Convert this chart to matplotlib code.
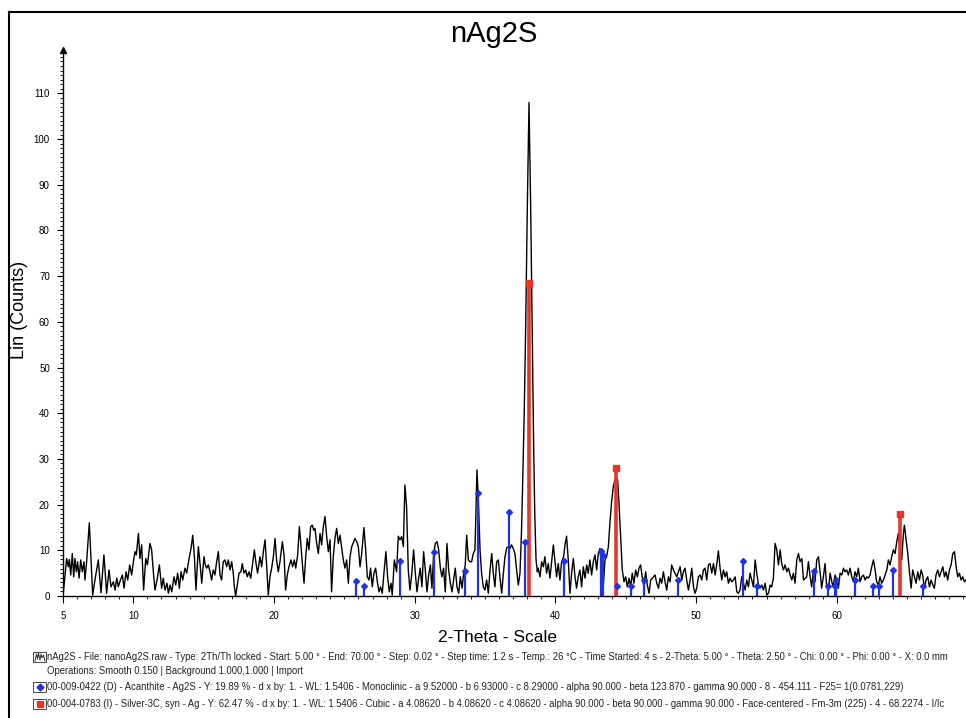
import matplotlib
matplotlib.use('Agg')
import matplotlib.pyplot as plt
import numpy as np
from matplotlib.lines import Line2D
from matplotlib.patches import Rectangle
from matplotlib.ticker import MultipleLocator, FixedLocator

plt.rcParams['font.family'] = ['Liberation Sans', 'DejaVu Sans']

tt_a = [5.00, 5.26, 5.38, 5.45, 5.55, 5.66, 5.76, 5.85, 5.95, 6.04,
        6.14, 6.26, 6.37, 6.49, 6.56, 6.68, 6.87, 7.11, 7.27, 7.51,
        7.70, 7.91, 8.10, 8.27, 8.41, 8.58, 8.70, 8.82, 8.93, 9.08,
        9.22, 9.34, 9.48, 9.60, 9.74, 9.88, 10.02, 10.12, 10.21, 10.36,
        10.47, 10.59, 10.73, 10.88, 11.00, 11.18, 11.30, 11.45, 11.54, 11.70,
        11.85, 12.01, 12.13, 12.25, 12.39, 12.49, 12.61, 12.73, 12.89, 13.01,
        13.15, 13.27, 13.39, 13.51, 13.67, 13.79, 13.96, 14.10, 14.22, 14.34,
        14.45, 14.62, 14.76, 14.86, 15.02]
ct_a = [0.0, 8.2, 6.4, 8.0, 4.6, 9.3, 4.2, 8.2, 5.3, 7.5,
        3.9, 7.9, 5.3, 7.5, 3.5, 7.5, 16.0, 0.2, 3.5, 7.9,
        0.7, 9.0, 0.6, 5.7, 2.0, 3.1, 1.3, 3.9, 2.0, 3.5,
        4.6, 1.7, 5.3, 3.5, 6.8, 4.6, 7.9, 9.7, 9.0, 13.7,
        8.2, 11.2, 1.3, 8.2, 6.8, 11.5, 10.1, 4.2, 1.3, 3.8,
        6.8, 1.7, 3.9, 1.3, 2.8, 0.6, 2.4, 0.9, 4.2, 2.4,
        5.0, 1.7, 5.3, 3.5, 6.1, 5.0, 8.2, 10.4, 13.3, 8.6,
        1.3, 10.8, 6.4, 2.8, 8.6]

tt_b = [15.09, 15.21, 15.33, 15.45, 15.56, 15.68, 15.80, 15.92, 16.04, 16.16,
        16.27, 16.39, 16.51, 16.63, 16.75, 16.87, 16.99, 17.10, 17.18, 17.27,
        17.39, 17.51, 17.65, 17.74, 17.86, 17.98, 18.10, 18.22, 18.34, 18.45,
        18.60, 18.72, 18.83, 19.00, 19.12, 19.24, 19.36, 19.47, 19.59, 19.71,
        19.83, 19.95, 20.07, 20.18, 20.30, 20.42, 20.59, 20.71, 20.82, 20.94,
        21.06, 21.20, 21.32, 21.44, 21.54, 21.68, 21.80, 21.91, 22.01, 22.13,
        22.25, 22.36, 22.48, 22.60, 22.72, 22.82, 22.91, 23.03, 23.15, 23.27,
        23.38, 23.50, 23.62, 23.74, 23.86, 23.98, 24.09, 24.21, 24.33, 24.45,
        24.57, 24.69, 24.81, 24.92, 25.04, 25.16, 25.28, 25.40, 25.52]
ct_b = [7.1, 6.1, 6.8, 5.3, 3.5, 5.7, 4.6, 7.5, 9.7, 4.6,
        3.5, 7.5, 7.9, 6.4, 7.9, 5.7, 7.5, 5.0, 2.0, 0.0,
        2.4, 5.0, 5.3, 7.1, 5.0, 5.7, 4.2, 5.3, 3.9, 6.4,
        10.1, 7.1, 5.0, 8.6, 6.4, 9.7, 12.3, 6.8, 0.2, 4.2,
        6.1, 8.6, 12.6, 7.9, 5.3, 7.5, 11.9, 9.0, 1.3, 4.6,
        6.4, 7.9, 6.4, 7.9, 6.1, 9.0, 15.2, 11.2, 7.1, 2.8,
        8.6, 12.6, 10.1, 15.2, 15.5, 14.4, 14.8, 11.5, 9.3, 13.7,
        11.2, 15.2, 17.4, 13.0, 9.7, 12.3, 0.9, 8.6, 12.6, 14.8,
        11.5, 13.3, 10.4, 7.9, 6.1, 7.9, 2.8, 8.6, 10.8]

tt_c = [25.75, 25.87, 25.99, 26.11, 26.22, 26.39, 26.51, 26.63, 26.75, 26.86,
        26.98, 27.10, 27.22, 27.34, 27.46, 27.57, 27.69, 27.81, 27.95, 28.07,
        28.19, 28.31, 28.40, 28.55, 28.71, 28.83, 28.95, 29.07, 29.19, 29.30,
        29.42, 29.54, 29.66, 29.78, 29.92, 30.04, 30.16, 30.28, 30.39, 30.51,
        30.63, 30.75, 30.87, 30.99, 31.11, 31.22, 31.34, 31.46, 31.58, 31.70,
        31.82, 31.93, 32.05, 32.17, 32.29, 32.41, 32.53, 32.65, 32.76, 32.88,
        33.00, 33.12, 33.24, 33.36, 33.48, 33.59, 33.69, 33.81, 33.93, 34.04,
        34.16, 34.28, 34.42, 34.52, 34.64, 34.75, 34.87, 34.99, 35.11, 35.23,
        35.35, 35.47, 35.58, 35.70, 35.82, 35.94, 36.06, 36.18, 36.30, 36.41,
        36.53]
ct_c = [12.6, 11.9, 10.8, 6.4, 9.0, 15.0, 10.1, 4.2, 3.5, 6.1,
        2.0, 5.0, 6.1, 3.1, 0.9, 2.0, 0.6, 5.0, 9.7, 4.2,
        0.9, 2.8, 0.2, 7.9, 5.3, 13.1, 12.3, 13.0, 10.8, 24.3,
        19.5, 5.7, 1.3, 4.6, 10.1, 5.0, 0.9, 3.9, 6.1, 2.0,
        9.7, 5.7, 0.9, 4.6, 6.8, 1.7, 9.0, 11.5, 11.9, 10.1,
        6.1, 4.2, 6.1, 0.9, 11.5, 5.7, 2.8, 0.9, 3.5, 6.1,
        2.0, 0.6, 4.2, 1.7, 5.0, 6.8, 13.3, 7.9, 7.5, 7.5,
        9.3, 10.1, 27.6, 21.0, 10.1, 5.0, 2.0, 1.3, 3.5, 0.6,
        5.7, 9.3, 5.0, 2.0, 7.5, 7.9, 3.9, 0.6, 5.0, 8.5,
        10.5]

tt_d = [36.65, 36.77, 36.88, 37.00, 37.12, 37.24, 37.36, 37.48, 37.59, 37.67,
        37.78, 37.88, 38.00, 38.12, 38.24, 38.36, 38.45, 38.53, 38.62, 38.71,
        38.78, 38.90, 39.02, 39.14, 39.25, 39.37, 39.49, 39.61, 39.73, 39.85,
        39.96, 40.08, 40.20, 40.32, 40.44, 40.58, 40.68, 40.79, 40.91, 41.03,
        41.15, 41.27, 41.39, 41.50, 41.62, 41.74, 41.86, 41.98, 42.10, 42.22,
        42.33, 42.45, 42.57, 42.69, 42.81, 42.93, 43.04, 43.16, 43.28, 43.40,
        43.52, 43.64, 43.76, 43.87, 43.99, 44.11, 44.23, 44.30, 44.42, 44.51,
        44.63, 44.75, 44.87, 44.99, 45.11, 45.23, 45.34, 45.46, 45.58, 45.70,
        45.82, 45.94, 46.05, 46.17, 46.29, 46.41, 46.53, 46.65, 46.77]
ct_d = [10.8, 10.4, 11.2, 10.4, 9.3, 5.7, 2.4, 5.0, 14.4, 24.7,
        40.0, 58.0, 85.0, 108.0, 85.0, 55.0, 33.0, 18.0, 8.0, 5.3,
        6.1, 4.2, 7.5, 6.4, 8.6, 5.0, 7.1, 3.9, 7.5, 11.2,
        7.9, 4.2, 7.1, 3.5, 7.5, 8.6, 11.2, 13.1, 7.9, 0.6,
        5.0, 8.2, 4.2, 1.7, 4.2, 5.7, 2.0, 6.4, 3.9, 6.8,
        5.0, 7.9, 4.6, 7.5, 9.0, 5.7, 9.3, 10.4, 5.7, 2.0,
        7.9, 8.6, 10.8, 15.9, 20.6, 23.9, 25.4, 26.1, 25.4, 20.6,
        13.0, 5.7, 3.1, 4.2, 2.0, 3.9, 2.0, 5.0, 2.8, 5.7,
        4.2, 6.1, 6.8, 4.2, 2.0, 5.3, 2.4, 0.6, 3.5]

tt_e = [47.08, 47.20, 47.32, 47.44, 47.55, 47.67, 47.79, 47.91, 48.03, 48.15,
        48.26, 48.38, 48.50, 48.62, 48.74, 48.86, 48.98, 49.09, 49.21, 49.33,
        49.45, 49.57, 49.69, 49.81, 49.92, 50.04, 50.16, 50.28, 50.40, 50.52,
        50.63, 50.75, 50.87, 50.99, 51.11, 51.23, 51.35, 51.46, 51.58, 51.70,
        51.82, 51.94, 52.06, 52.17, 52.29, 52.41, 52.53, 52.65, 52.77, 52.89,
        53.00, 53.12, 53.24, 53.36, 53.48, 53.60, 53.72, 53.83, 53.95, 54.07,
        54.19, 54.31, 54.43, 54.54, 54.66, 54.78, 54.90, 55.02, 55.14, 55.26,
        55.37, 55.49, 55.61, 55.73, 55.85, 55.97, 56.08, 56.20, 56.32, 56.44,
        56.56, 56.68, 56.80, 56.91, 57.03, 57.15, 57.27, 57.39, 57.51, 57.63]
ct_e = [4.6, 2.8, 1.7, 3.9, 2.8, 5.3, 3.1, 1.3, 4.2, 3.1,
        6.8, 5.7, 5.0, 4.2, 5.3, 6.4, 3.5, 5.3, 6.1, 3.5,
        1.3, 3.5, 6.1, 2.0, 0.6, 1.7, 4.2, 4.6, 3.5, 5.7,
        6.1, 3.5, 6.8, 7.1, 5.0, 7.1, 4.6, 6.8, 9.9, 6.1,
        3.5, 5.7, 4.2, 5.3, 2.8, 3.9, 3.1, 3.5, 4.2, 0.9,
        0.6, 1.3, 4.2, 2.8, 1.3, 3.5, 2.0, 5.0, 3.5, 2.0,
        7.9, 5.0, 2.4, 1.7, 2.4, 1.3, 2.8, 0.2, 0.6, 2.4,
        2.0, 3.9, 11.5, 10.1, 6.8, 10.1, 7.1, 5.7, 6.8, 5.3,
        6.1, 4.6, 3.5, 5.0, 2.8, 7.9, 9.3, 7.5, 8.2, 3.5]

tt_f = [57.86, 57.98, 58.10, 58.21, 58.33, 58.45, 58.57, 58.69, 58.81, 58.92,
        59.04, 59.16, 59.28, 59.40, 59.52, 59.64, 59.75, 59.87, 59.99, 60.11,
        60.23, 60.35, 60.47, 60.58, 60.70, 60.82, 60.94, 61.06, 61.18, 61.29,
        61.41, 61.53, 61.65, 61.77, 61.89, 62.01, 62.12, 62.24, 62.36, 62.48,
        62.60, 62.72, 62.83, 62.95, 63.07, 63.19, 63.31, 63.43, 63.55, 63.66,
        63.78, 63.90, 64.02, 64.14, 64.26, 64.37, 64.49, 64.61, 64.73, 64.80,
        64.92, 65.04, 65.16, 65.28, 65.39, 65.51, 65.63, 65.75, 65.87, 65.99,
        66.10, 66.22, 66.34, 66.46, 66.58, 66.70, 66.82, 66.93, 67.05, 67.17,
        67.29, 67.41, 67.53, 67.65, 67.76, 67.88, 68.00, 68.12, 68.24, 68.36,
        68.48, 68.59, 68.71, 68.83, 68.95, 69.07, 69.19, 69.40, 69.60, 69.80,
        70.00]
ct_f = [4.2, 7.5, 4.2, 2.0, 5.3, 3.1, 7.9, 8.6, 5.3, 1.7,
        4.2, 7.1, 2.0, 1.3, 5.0, 3.1, 2.0, 4.6, 3.5, 1.7,
        5.0, 4.6, 6.1, 5.3, 5.7, 4.6, 6.1, 4.2, 3.1, 5.3,
        4.2, 6.1, 3.1, 4.2, 4.6, 3.5, 4.2, 3.9, 4.6, 6.4,
        7.9, 5.7, 3.1, 2.4, 4.2, 2.8, 3.5, 4.6, 5.7, 7.9,
        6.8, 8.6, 10.1, 9.3, 11.9, 13.7, 10.1, 7.9, 13.7, 15.5,
        12.3, 9.3, 5.3, 1.7, 5.7, 4.2, 2.8, 5.3, 3.5, 5.7,
        4.6, 1.7, 3.5, 4.2, 2.0, 3.5, 2.4, 1.7, 4.6, 5.7,
        4.2, 5.3, 6.4, 4.2, 5.3, 3.5, 5.7, 6.8, 9.3, 9.7,
        6.4, 4.2, 5.0, 3.5, 4.2, 3.1, 3.5, 4.5, 3.0, 4.0,
        3.5]

# ---- reference patterns (stick positions / heights) ----
acanthite_pos = [25.85, 26.42, 28.95, 31.39, 33.57, 34.52, 36.68, 37.81, 40.63, 43.27,
                 43.37, 44.40, 45.37, 46.32, 48.69, 53.31, 54.30, 58.40, 59.35, 59.85,
                 59.97, 61.29, 62.59, 62.99, 63.97, 66.15]
acanthite_int = [3.3, 2.2, 7.6, 9.7, 5.5, 22.6, 18.3, 11.9, 7.7, 9.9,
                 9.0, 2.2, 2.2, 3.4, 3.4, 7.7, 2.2, 5.5, 2.2, 2.2,
                 3.4, 3.4, 2.2, 2.2, 5.6, 2.2]
silver_pos = [38.13, 44.30, 64.46]
silver_int = [68.5, 28.0, 18.0]

title = 'nAg2S'
xlabel = '2-Theta - Scale'
ylabel = 'Lin (Counts)'
legend_lines = [
    'nAg2S - File: nanoAg2S.raw - Type: 2Th/Th locked - Start: 5.00 \u00b0 - End: 70.00 \u00b0 - Step: 0.02 \u00b0 - Step time: 1.2 s - Temp.: 26 \u00b0C - Time Started: 4 s - 2-Theta: 5.00 \u00b0 - Theta: 2.50 \u00b0 - Chi: 0.00 \u00b0 - Phi: 0.00 \u00b0 - X: 0.0 mm',
    'Operations: Smooth 0.150 | Background 1.000,1.000 | Import',
    '00-009-0422 (D) - Acanthite - Ag2S - Y: 19.89 % - d x by: 1. - WL: 1.5406 - Monoclinic - a 9.52000 - b 6.93000 - c 8.29000 - alpha 90.000 - beta 123.870 - gamma 90.000 - 8 - 454.111 - F25= 1(0.0781,229)',
    '00-004-0783 (I) - Silver-3C, syn - Ag - Y: 62.47 % - d x by: 1. - WL: 1.5406 - Cubic - a 4.08620 - b 4.08620 - c 4.08620 - alpha 90.000 - beta 90.000 - gamma 90.000 - Face-centered - Fm-3m (225) - 4 - 68.2274 - I/Ic',
]

two_theta = np.concatenate([tt_a, tt_b, tt_c, tt_d, tt_e, tt_f])
counts = np.concatenate([ct_a, ct_b, ct_c, ct_d, ct_e, ct_f])

blue = '#1f33e6'
red = '#e8352a'
W, H = 966, 718  # pixel grid of the figure

fig = plt.figure(figsize=(W / 100, H / 100), dpi=100)
ax = fig.add_axes([63 / W, 1 - 596 / H, 903 / W, 546 / H])

ax.plot(two_theta, counts, color='black', lw=1.0, zorder=2)
ax.vlines(acanthite_pos, 0, acanthite_int, color=blue, lw=1.6, zorder=3)
ax.plot(acanthite_pos, acanthite_int, 'D', color=blue, ms=3, zorder=4)
ax.vlines(silver_pos, 0, silver_int, color=red, lw=2.6, zorder=3)
ax.plot(silver_pos, silver_int, 's', color=red, ms=4.5, zorder=4)

ax.set_xlim(5, 5 + 903 / 14.07)
ax.set_ylim(0, 119.5)
# little arrow head on top of the y axis
ax.plot([5], [119.5], marker='^', color='black', ms=4, clip_on=False, zorder=5)

ax.xaxis.set_major_locator(FixedLocator([5, 10, 20, 30, 40, 50, 60]))
ax.xaxis.set_minor_locator(MultipleLocator(1))
ax.yaxis.set_major_locator(MultipleLocator(10))
ax.yaxis.set_minor_locator(MultipleLocator(1))
ax.tick_params(axis='x', which='major', direction='out', length=5, width=0.8, labelsize=7, pad=6)
ax.tick_params(axis='y', which='major', direction='out', length=4.5, width=0.8, labelsize=7, pad=5)
ax.tick_params(which='minor', direction='out', length=2.5, width=0.6)

for s in ['top', 'right']:
    ax.spines[s].set_visible(False)
for s in ['left', 'bottom']:
    ax.spines[s].set_linewidth(1.0)

fig.text(494 / W, 1 - 42 / H, title, ha='center', va='baseline', fontsize=21)
fig.text(20 / W, 1 - 310 / H, ylabel, rotation=90, ha='center', va='center', fontsize=13)
fig.text(498 / W, 1 - 637 / H, xlabel, ha='center', va='center', fontsize=12.5)

# caption block under the axis
rows = [657, 671, 687, 704]
for txt, yp in zip(legend_lines, rows):
    fig.text(47 / W, 1 - yp / H, txt, ha='left', va='center', fontsize=6.88, color='#222222')

for yp in [rows[0], rows[2], rows[3]]:
    fig.add_artist(Rectangle((33 / W, 1 - (yp + 5) / H), 13 / W, 10 / H,
                             transform=fig.transFigure, fill=False, ec='#444444', lw=0.7))
# scan icon
wx = np.array([35, 36.5, 37.5, 38.5, 40, 41, 42, 43.5, 45]) / W
wy = 1 - (rows[0] + np.array([4, -3, 2, -4, 3, -3, 1, -2, 4])) / H
fig.add_artist(Line2D(wx, wy, color='#333333', lw=0.7, transform=fig.transFigure))
fig.add_artist(Line2D([39.5 / W], [1 - rows[2] / H], marker='D', ms=3.5, color=blue,
                      transform=fig.transFigure))
fig.add_artist(Line2D([39.5 / W], [1 - rows[3] / H], marker='s', ms=5, color=red,
                      transform=fig.transFigure))

# outer frame (only left and top edges are inside the picture)
fig.add_artist(Line2D([9 / W, 9 / W], [0, 1 - 12 / H], color='black', lw=1.5, transform=fig.transFigure))
fig.add_artist(Line2D([9 / W, 1], [1 - 12 / H, 1 - 12 / H], color='black', lw=1.5, transform=fig.transFigure))

fig.savefig('out.png', dpi=100)
